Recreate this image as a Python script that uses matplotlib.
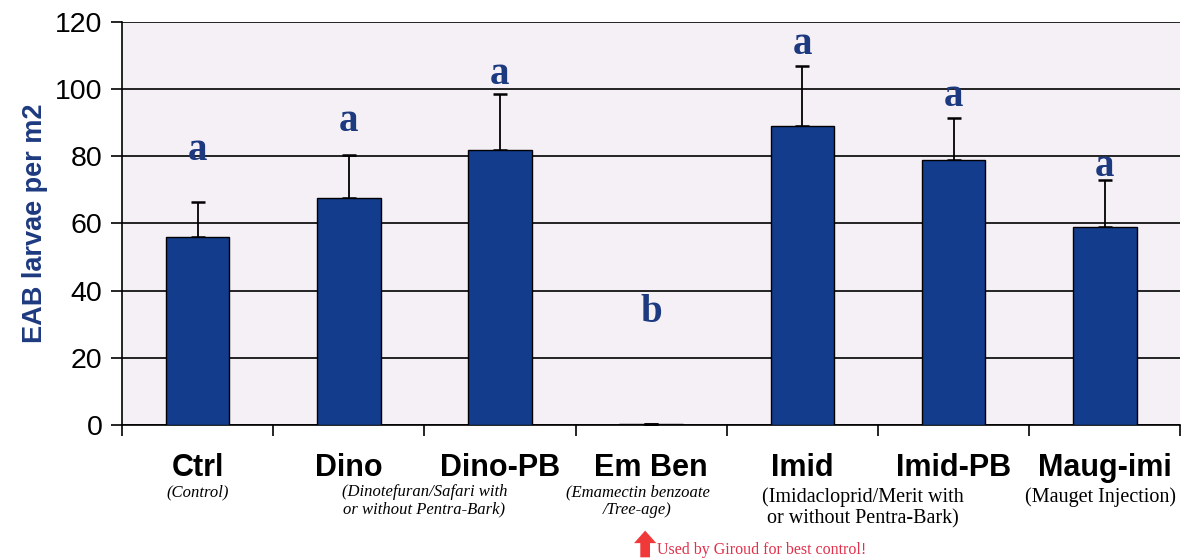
import matplotlib
matplotlib.use('Agg')
import matplotlib.pyplot as plt
import numpy as np

categories = ['Ctrl', 'Dino', 'Dino-PB', 'Em Ben', 'Imid', 'Imid-PB', 'Maug-imi']
subtitles = ['(Control)',
             '(Dinotefuran/Safari with\nor without Pentra-Bark)',
             '',
             '(Emamectin benzoate\n/Tree-age)',
             '(Imidacloprid/Merit with\nor without Pentra-Bark)',
             '',
             '(Mauget Injection)']
sub_italic = [True, True, False, True, False, False, False]
means = [56, 67.5, 82, 0.4, 89, 79, 59]
errors = [10.5, 13, 16.5, 0, 18, 12.5, 14]
letters = ['a', 'a', 'a', 'b', 'a', 'a', 'a']
letter_y = [79, 87.5, 101.5, 30.7, 110.5, 95, 74]

# horizontal shift of the subtitle blocks (category units), as laid out in the original
sub_shift = [0.0, 0.5, 0.0, -0.09, 0.4, 0.0, -0.03]

bar_color = '#133c8c'
text_blue = '#1d3a80'

fig = plt.figure(figsize=(11.84, 5.6), dpi=100)
ax = fig.add_axes([0.103, 0.241, 0.894, 0.72])
ax.set_facecolor('#f5f0f5')

x = np.arange(len(categories))
ax.bar(x, means, width=0.42, color=bar_color, edgecolor='black', linewidth=1.0, zorder=3)
ax.errorbar(x, means, yerr=[np.zeros(len(errors)), errors], fmt='none',
            ecolor='black', elinewidth=1.3, capsize=5, capthick=1.8, zorder=2.9)

for xi, lab, ly in zip(x, letters, letter_y):
    ax.text(xi, ly, lab, ha='center', va='baseline', fontsize=28, fontweight='bold',
            family='Liberation Serif', color=text_blue, zorder=5)

ax.set_xlim(-0.5, len(categories) - 0.5)
ax.set_ylim(0, 120)
ax.set_yticks(range(0, 121, 20))
ax.yaxis.grid(True, color='black', linewidth=1.2)
ax.set_axisbelow(True)
ax.tick_params(axis='y', labelsize=20.5, length=8, width=1.2, direction='out', pad=6)
for t in ax.get_yticklabels():
    t.set_family('Liberation Sans')

ax.set_xticks([])
ax.set_xticks(np.arange(-0.5, len(categories)), minor=True)
ax.tick_params(axis='x', which='minor', length=8, width=1.2, direction='out')
ax.set_xticklabels([], minor=True)

for s in ['top', 'right']:
    ax.spines[s].set_visible(False)
ax.spines['left'].set_linewidth(1.2)
ax.spines['bottom'].set_linewidth(1.2)

ax.set_ylabel('EAB larvae per m2', fontsize=19.5, fontweight='bold', color=text_blue,
              family='Liberation Sans', labelpad=5)

trans = ax.get_xaxis_transform()
for xi, name, sub, ital, dx in zip(x, categories, subtitles, sub_italic, sub_shift):
    ax.text(xi, -0.107, name, transform=trans, ha='center', va='center',
            fontsize=22, fontweight='bold', family='Liberation Sans')
    if sub:
        if ital:
            ax.text(xi + dx, -0.147, sub, transform=trans, ha='center', va='top',
                    fontsize=12, style='italic', family='Liberation Serif',
                    linespacing=1.1)
        else:
            ax.text(xi + dx, -0.155, sub, transform=trans, ha='center', va='top',
                    fontsize=14.5, family='Liberation Serif', linespacing=1.12)

# red arrow pointing at Em Ben
ax.annotate('', xy=(2.96, -0.255), xytext=(2.96, -0.335), xycoords=trans,
            textcoords=trans, annotation_clip=False,
            arrowprops=dict(arrowstyle='simple,head_width=1.6,head_length=0.9,tail_width=0.7',
                            color='#f03a3a', lw=0))
ax.text(3.04, -0.31, 'Used by Giroud for best control!', transform=trans,
        ha='left', va='center', fontsize=11.5, family='Liberation Serif', color='#e0304a')

fig.savefig('out.png', dpi=100)
